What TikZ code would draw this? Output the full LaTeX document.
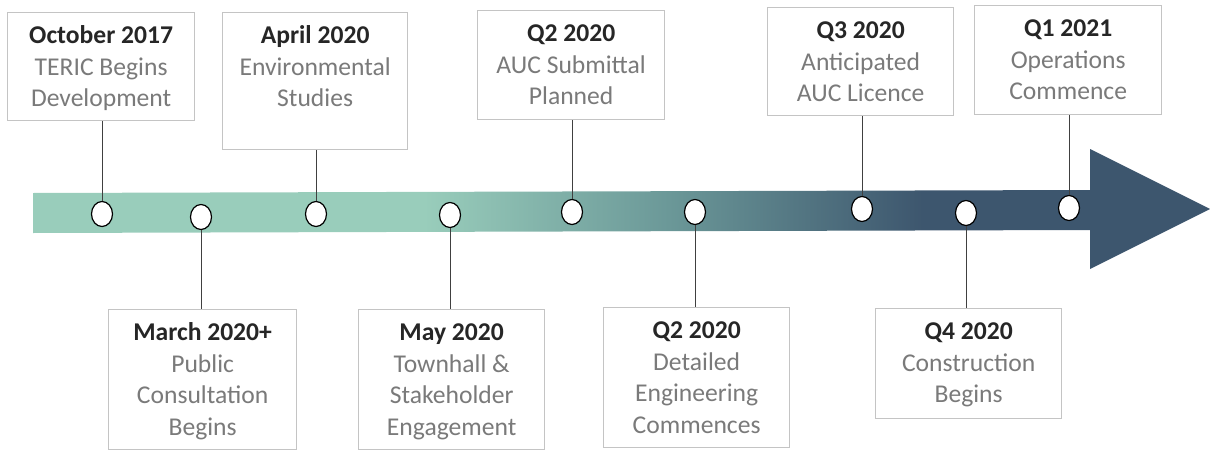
\documentclass[tikz,border=0pt]{standalone}
\usepackage{fontspec}
\setmainfont{Carlito}
\usetikzlibrary{shapes.geometric,positioning}
\definecolor{lightteal}{HTML}{99CDBB}
\definecolor{midteal}{HTML}{6B9898}
\definecolor{darkblue}{HTML}{3D566E}
\definecolor{boxgray}{HTML}{C4C4C4}
\definecolor{bodygray}{HTML}{7A7A7A}
\definecolor{titleblack}{HTML}{262626}
\definecolor{linegray}{HTML}{404040}
\pgfdeclarehorizontalshading{timeline}{100bp}{color(0bp)=(lightteal); color(41.6bp)=(lightteal); color(52bp)=(midteal); color(62.8bp)=(darkblue); color(100bp)=(darkblue)}
\newcommand{\evtitle}[1]{\strut\textcolor{titleblack}{\textbf{#1}}}
\begin{document}
\begin{tikzpicture}[x=1pt,y=-1pt,
  evbox/.style={draw=boxgray, line width=1.3pt, fill=white, anchor=north west, inner sep=0pt, minimum width=#1},
  evbox/.default=187,
  txt/.style={align=center, inner sep=0pt, text=bodygray, font=\fontsize{25.6}{31.7}\selectfont},
  dot/.style={ellipse, draw=black, line width=1.2pt, fill=white, minimum width=21pt, minimum height=25pt, inner sep=0pt},
  conn/.style={draw=linegray, line width=1pt}]
\useasboundingbox (0,0) rectangle (1211,450);
\shade[shading=timeline] (33,193) -- (1090,190) -- (1090,149) -- (1210,209) -- (1090,269) -- (1090,230) -- (33,233) -- cycle;

% boxes
\node[evbox=187, minimum height=108pt] (b1) at (7,12) {};
\node[evbox=185, minimum height=137pt] (b3) at (222,12) {};
\node[evbox=187, minimum height=109pt] (b5) at (477,10) {};
\node[evbox=186, minimum height=108pt] (b7) at (767,7) {};
\node[evbox=187, minimum height=109pt] (b9) at (974,5) {};
\node[evbox=188, minimum height=140pt] (b2) at (108,309) {};
\node[evbox=186, minimum height=140pt] (b4) at (358,309) {};
\node[evbox=186, minimum height=140pt] (b6) at (603,307) {};
\node[evbox=186, minimum height=110pt] (b8) at (875,308) {};

% texts
\node[txt, below=9pt of b1.north] (t1) {\evtitle{October 2017}\\TERIC Begins\\Development};
\node[txt, below=9pt of b3.north] (t3) {\evtitle{April 2020}\\Environmental\\Studies};
\node[txt, below=9pt of b5.north] (t5) {\evtitle{Q2 2020}\\AUC Submittal\\Planned};
\node[txt, below=9pt of b7.north] (t7) {\evtitle{Q3 2020}\\Anticipated\\AUC Licence};
\node[txt, below=9pt of b9.north] (t9) {\evtitle{Q1 2021}\\Operations\\Commence};
\node[txt, below=9pt of b2.north] (t2) {\evtitle{March 2020+}\\Public\\Consultation\\Begins};
\node[txt, below=9pt of b4.north] (t4) {\evtitle{May 2020}\\Townhall \&\\Stakeholder\\Engagement};
\node[txt, below=9pt of b6.north] (t6) {\evtitle{Q2 2020}\\Detailed\\Engineering\\Commences};
\node[txt, below=9pt of b8.north] (t8) {\evtitle{Q4 2020}\\Construction\\Begins};

% milestone dots
\node[dot] (c1) at (102,214) {};
\node[dot] (c2) at (201,217) {};
\node[dot] (c3) at (316,214) {};
\node[dot] (c4) at (450,215) {};
\node[dot] (c5) at (572,212) {};
\node[dot] (c6) at (695,212) {};
\node[dot] (c7) at (862,209) {};
\node[dot] (c8) at (966,213) {};
\node[dot] (c9) at (1069,208) {};

% connectors
\draw[conn] (b1.south -| c1) -- (c1.north);
\draw[conn] (b3.south -| c3) -- (c3.north);
\draw[conn] (b5.south -| c5) -- (c5.north);
\draw[conn] (b7.south -| c7) -- (c7.north);
\draw[conn] (b9.south -| c9) -- (c9.north);
\draw[conn] (c2.south) -- (c2.south |- b2.north);
\draw[conn] (c4.south) -- (c4.south |- b4.north);
\draw[conn] (c6.south) -- (c6.south |- b6.north);
\draw[conn] (c8.south) -- (c8.south |- b8.north);
\end{tikzpicture}
\end{document}
